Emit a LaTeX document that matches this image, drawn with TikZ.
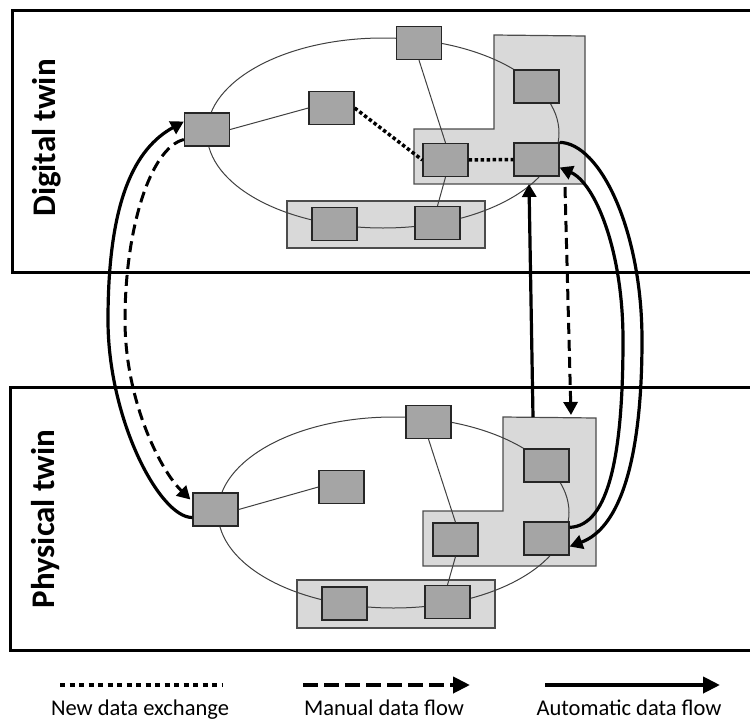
\documentclass[tikz,border=0pt]{standalone}
\usepackage{fontspec}
\setmainfont{Carlito}
\usetikzlibrary{arrows.meta,calc}
\definecolor{boxgray}{HTML}{A5A5A5}
\definecolor{zonegray}{HTML}{D9D9D9}
\definecolor{edgegray}{HTML}{404040}
\begin{document}
\begin{tikzpicture}[x=1pt,y=-1pt,
  twinframe/.style={draw=black,line width=3pt},
  zone/.style={draw=black!70,fill=zonegray,line width=1.2pt},
  comp/.style={draw=black!85,fill=boxgray,line width=1.3pt,minimum width=45pt,minimum height=33pt,inner sep=0pt},
  ring/.style={draw=edgegray,line width=1pt},
  link/.style={draw=edgegray,line width=1pt},
  newflow/.style={line width=3.5pt,dash pattern=on 3.5pt off 2.5pt},
  manualflow/.style={line width=3pt,dash pattern=on 11pt off 6pt,-{Triangle[length=13pt,width=14pt]}},
  autoflow/.style={line width=3.2pt,-{Triangle[length=13pt,width=14pt]}},
  twinlabel/.style={rotate=90,font=\fontsize{33}{40}\selectfont\bfseries},
  legendtext/.style={anchor=base,font=\fontsize{22.5}{27}\selectfont}
]
\useasboundingbox (0,0) rectangle (750,726);

% frames
\draw[twinframe] (12,10) rectangle (753,272.5);
\draw[twinframe] (10,387.5) rectangle (753,650);
\node[twinlabel] (dtlabel) at (47,138) {Digital twin};
\node[twinlabel] (ptlabel) at (46,519) {Physical twin};

% zones (digital)
\draw[zone] (287,201) rectangle (485,248);
\draw[zone] (494,35) -- (585,36) -- (585,184) -- (414,184) -- (414,129) -- (494,129) -- cycle;
% zones (physical)
\draw[zone] (297,580) rectangle (495,628);
\draw[zone] (503,417) -- (596,418) -- (596,566) -- (423,566) -- (423,511) -- (503,511) -- cycle;

% rings
\draw[ring] (383,133) ellipse [x radius=176pt, y radius=95pt];
\draw[ring] (393.5,512.5) ellipse [x radius=175.5pt, y radius=95.5pt];

% digital components
\node[comp] (A) at (207,129.5) {};
\node[comp] (B) at (331.5,108) {};
\node[comp] (C) at (419,43) {};
\node[comp] (D) at (536.5,86.5) {};
\node[comp] (E) at (445.5,160) {};
\node[comp] (F) at (536.5,159.5) {};
\node[comp] (G) at (334.5,224) {};
\node[comp] (H) at (437.5,223) {};
% physical components
\node[comp] (Ab) at (215.5,509.5) {};
\node[comp] (Bb) at (341.5,487) {};
\node[comp] (Cb) at (428.5,422) {};
\node[comp] (Db) at (546.5,465.5) {};
\node[comp] (Eb) at (455.5,539.5) {};
\node[comp] (Fb) at (546.5,538.5) {};
\node[comp] (Gb) at (344.5,603.5) {};
\node[comp] (Hb) at (447.5,602) {};

% thin links
\draw[link] (A.east) -- (B.west);
\draw[link] (C.south) -- (E.north);
\draw[link] (E.south) -- (H.north);
\draw[link] (Ab.east) -- (Bb.west);
\draw[link] (Cb.south) -- (Eb.north);
\draw[link] (Eb.south) -- (Hb.north);

% new data exchange
\draw[newflow] (B.east) -- (E.west);
\draw[newflow] (E.east) -- (F.west);

% left flows
\draw[autoflow] ([yshift=-8pt]Ab.west) .. controls (160,518) and (108,420) .. (108,320)
   .. controls (108,200) and (135,148.5) .. ([yshift=8pt]A.west);
\draw[manualflow] ([yshift=-10pt]A.west) .. controls (150,148) and (125,230) .. (125,320)
   .. controls (125,400) and (160,470) .. ([xshift=-2pt,yshift=10pt]Ab.west);

% right flows
\coordinate (rs1) at (533,417);
\coordinate (rs2) at (529,184);
\coordinate (rd1) at (565,187);
\coordinate (rd2) at (571,415);
\draw[autoflow] (rs1) -- (rs2);
\draw[manualflow] (rd1) -- (rd2);
\draw[autoflow] (F.north east) .. controls (600,143) and (642,230) .. (642,340)
   .. controls (642,460) and (620,528) .. ([yshift=-8pt]Fb.east);
\draw[autoflow] ([yshift=-6pt]Fb.north east) .. controls (610,526) and (623,450) .. (623,340)
   .. controls (623,250) and (595,183) .. ([yshift=-8pt]F.east);

% legend
\coordinate (l1a) at (60,685);
\coordinate (l1b) at (222,685);
\coordinate (l2a) at (303,685);
\coordinate (l2b) at (470,685);
\coordinate (l3a) at (545,685);
\coordinate (l3b) at (720,685);
\draw[line width=4pt,dash pattern=on 5pt off 4.5pt] (l1a) -- (l1b);
\draw[line width=4pt,dash pattern=on 15pt off 6pt,-{Triangle[length=17pt,width=16pt]}] (l2a) -- (l2b);
\draw[line width=4pt,-{Triangle[length=17pt,width=16pt]}] (l3a) -- (l3b);
\node[legendtext] (lt1) at (140,715) {New data exchange};
\node[legendtext] (lt2) at (384,715) {Manual data flow};
\node[legendtext] (lt3) at (629,715) {Automatic data flow};
\end{tikzpicture}
\end{document}
